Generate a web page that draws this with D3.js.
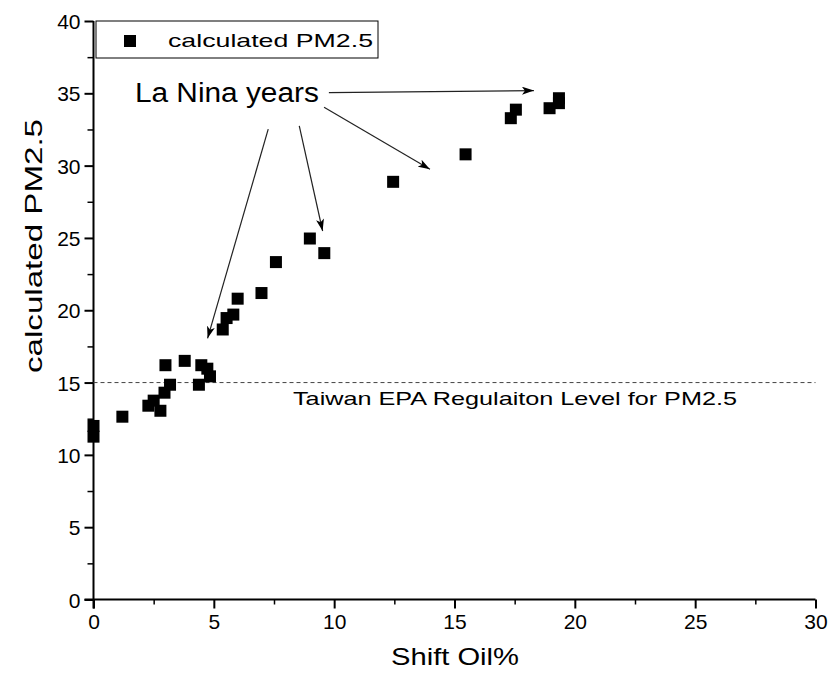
<!DOCTYPE html>
<html>
<head>
<meta charset="utf-8">
<script src="https://cdn.jsdelivr.net/npm/d3@7"></script>
<style>
  body { margin: 0; background: #fff; }
  svg text { font-family: "Liberation Sans", Arial, sans-serif; fill: #000; }
</style>
</head>
<body>
<svg id="chart" width="831" height="688"></svg>
<script>
// data
var shiftOil = [0, 0, 1.2, 2.28, 2.5, 2.78, 2.95, 3.18, 2.99, 3.79, 4.48, 4.73, 4.84, 4.38,
                5.37, 5.53, 5.81, 5.99, 6.98, 7.58, 8.99, 9.59, 12.45, 15.46, 17.34, 17.55,
                18.95, 19.34, 19.34];
var pm25 = [11.26, 12.0, 12.64, 13.4, 13.75, 13.05, 14.3, 14.85, 16.2, 16.5, 16.2, 15.96, 15.43, 14.85,
            18.67, 19.46, 19.7, 20.8, 21.19, 23.33, 24.96, 23.95, 28.88, 30.78, 33.28, 33.87,
            33.97, 34.66, 34.32];
var xTicks = [0, 5, 10, 15, 20, 25, 30];
var yTicks = [0, 5, 10, 15, 20, 25, 30, 35, 40];
var regulationLevel = 15;

// La Nina arrows, in data units: [x0, y0, x1, y1]
var arrows = [
  [9.78, 35.05, 18.3, 35.19],
  [9.58, 34.04, 13.98, 29.75],
  [8.55, 32.75, 9.52, 25.48],
  [7.26, 32.52, 4.74, 18.06]
];

var svg = d3.select("#chart");
var padding = { l: 93.5, r: 815.5, t: 21, b: 599.5 };

var xScale = d3.scaleLinear().domain([0, 30]).range([padding.l, padding.r]);
var yScale = d3.scaleLinear().domain([0, 40]).range([padding.b, padding.t]);

var csv = shiftOil.map(function (d, i) { return { x: d, y: pm25[i] }; });

// arrow head
svg.append("defs").append("marker")
  .attr("id", "head")
  .attr("viewBox", "0 0 12 8")
  .attr("refX", 12).attr("refY", 4)
  .attr("markerWidth", 12).attr("markerHeight", 8)
  .attr("markerUnits", "userSpaceOnUse")
  .attr("orient", "auto")
  .append("path")
  .attr("d", "M0,0 L12,4 L0,8 L3,4 Z")
  .attr("fill", "#000");

// minor ticks
var minorX = d3.range(2.5, 30, 5);
var minorY = d3.range(2.5, 40, 5);

svg.append("g")
  .attr("transform", "translate(0," + padding.b + ")")
  .call(d3.axisBottom(xScale).tickValues(minorX).tickSize(5).tickFormat(""))
  .call(function (g) { g.select(".domain").remove(); })
  .selectAll("line").attr("stroke-width", 1.5);

svg.append("g")
  .attr("transform", "translate(" + padding.l + ",0)")
  .call(d3.axisLeft(yScale).tickValues(minorY).tickSize(6).tickFormat(""))
  .call(function (g) { g.select(".domain").remove(); })
  .selectAll("line").attr("stroke-width", 1.5);

// main axes
var xAxis = svg.append("g")
  .attr("transform", "translate(0," + padding.b + ")")
  .call(d3.axisBottom(xScale).tickValues(xTicks).tickSize(9).tickSizeOuter(0).tickPadding(6));
xAxis.select(".domain").attr("stroke-width", 2).attr("d", "M" + (padding.l - 9) + ",0H" + padding.r);
xAxis.selectAll("line").attr("stroke-width", 2);
xAxis.selectAll("text").attr("font-size", 21).attr("font-family", "Liberation Sans, Arial, sans-serif");

var yAxis = svg.append("g")
  .attr("transform", "translate(" + padding.l + ",0)")
  .call(d3.axisLeft(yScale).tickValues(yTicks).tickSize(9).tickSizeOuter(0).tickPadding(4));
yAxis.select(".domain").attr("stroke-width", 2).attr("d", "M0," + (padding.b + 9) + "V" + padding.t);
yAxis.selectAll("line").attr("stroke-width", 2);
yAxis.selectAll("text").attr("font-size", 21).attr("font-family", "Liberation Sans, Arial, sans-serif")
  .attr("dy", "0.36em");

// regulation level
svg.append("line")
  .attr("x1", xScale(0)).attr("x2", xScale(30))
  .attr("y1", yScale(regulationLevel)).attr("y2", yScale(regulationLevel))
  .attr("stroke", "#444").attr("stroke-width", 1)
  .attr("stroke-dasharray", "4,3");

svg.append("text")
  .attr("x", xScale(8.29)).attr("y", yScale(13.45))
  .attr("font-size", 18.5)
  .attr("textLength", 444).attr("lengthAdjust", "spacingAndGlyphs")
  .text("Taiwan EPA Regulaiton Level for PM2.5");

// points
svg.selectAll("rect.pt")
  .data(csv)
  .enter()
  .append("rect")
  .attr("class", "pt")
  .attr("x", function (d) { return xScale(d.x) - 6; })
  .attr("y", function (d) { return yScale(d.y) - 6; })
  .attr("width", 12)
  .attr("height", 12)
  .attr("fill", "#000");

// arrows
svg.selectAll("line.arrow")
  .data(arrows)
  .enter()
  .append("line")
  .attr("class", "arrow")
  .attr("x1", function (d) { return xScale(d[0]); })
  .attr("y1", function (d) { return yScale(d[1]); })
  .attr("x2", function (d) { return xScale(d[2]); })
  .attr("y2", function (d) { return yScale(d[3]); })
  .attr("stroke", "#222").attr("stroke-width", 1.2)
  .attr("marker-end", "url(#head)");

svg.append("text")
  .attr("x", xScale(1.72)).attr("y", yScale(34.43))
  .attr("font-size", 27)
  .attr("textLength", 184).attr("lengthAdjust", "spacingAndGlyphs")
  .text("La Nina years");

// legend
svg.append("rect")
  .attr("x", 96).attr("y", 21)
  .attr("width", 282).attr("height", 37)
  .attr("fill", "#fff").attr("stroke", "#000").attr("stroke-width", 1);
svg.append("rect")
  .attr("x", 124).attr("y", 35)
  .attr("width", 12).attr("height", 12)
  .attr("fill", "#000");
svg.append("text")
  .attr("x", 168).attr("y", 47)
  .attr("font-size", 19)
  .attr("textLength", 205).attr("lengthAdjust", "spacingAndGlyphs")
  .text("calculated PM2.5");

// axis titles
svg.append("text")
  .attr("x", 455).attr("y", 665)
  .attr("text-anchor", "middle")
  .attr("font-size", 24)
  .attr("textLength", 128).attr("lengthAdjust", "spacingAndGlyphs")
  .text("Shift Oil%");

svg.append("text")
  .attr("transform", "translate(42,246) rotate(-90)")
  .attr("text-anchor", "middle")
  .attr("font-size", 24)
  .attr("textLength", 254).attr("lengthAdjust", "spacingAndGlyphs")
  .text("calculated PM2.5");
</script>
</body>
</html>
